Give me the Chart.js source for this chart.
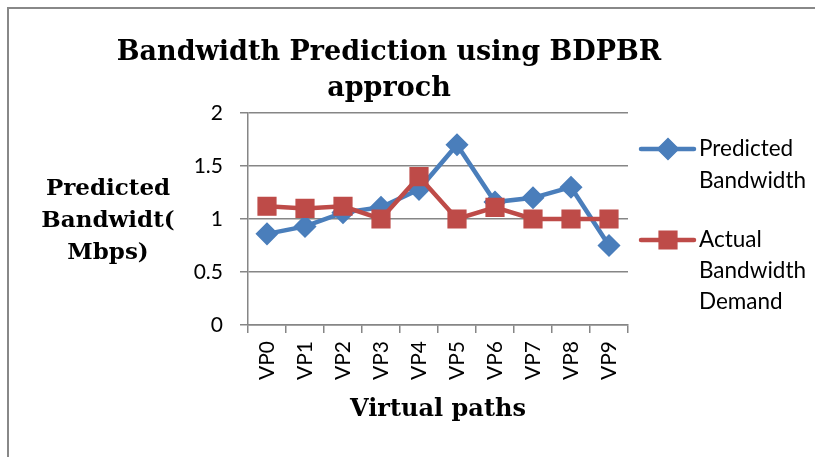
<!DOCTYPE html>
<html>
<head>
<meta charset="utf-8">
<script src="https://cdn.jsdelivr.net/npm/chart.js@4.4.0/dist/chart.umd.min.js"></script>
<style>
  html, body { margin: 0; padding: 0; background: #fff; }
  #wrap { width: 815px; height: 457px; position: relative; }
</style>
</head>
<body>
<div id="wrap"><canvas id="c" width="815" height="457"></canvas></div>
<script>
const categories = ['VP0','VP1','VP2','VP3','VP4','VP5','VP6','VP7','VP8','VP9'];
const predicted = [0.86, 0.93, 1.06, 1.11, 1.28, 1.70, 1.16, 1.20, 1.30, 0.75];
const actual    = [1.12, 1.10, 1.12, 1.00, 1.40, 1.00, 1.11, 1.00, 1.00, 1.00];
const yTickLabels = ['0', '0.5', '1', '1.5', '2'];
const titleLines = ['Bandwidth Prediction using BDPBR', 'approch'];
const yTitleLines = ['Predicted', 'Bandwidt(', 'Mbps)'];
const xTitle = 'Virtual paths';
const legendPredicted = ['Predicted', 'Bandwidth'];
const legendActual = ['Actual', 'Bandwidth', 'Demand'];

const BLUE = '#4A7EBB';
const RED = '#BE4B48';
const GRID = '#868686';
const SERIF = '"DejaVu Serif", serif';
const SANS = 'Lato, "Open Sans", sans-serif';

const extras = {
  id: 'extras',
  beforeDraw(chart) {
    const ctx = chart.ctx;
    ctx.save();
    ctx.strokeStyle = '#888888';
    ctx.lineWidth = 2;
    ctx.strokeRect(8, 8, 1000, 1000);
    ctx.restore();
  },
  afterDraw(chart) {
    const ctx = chart.ctx;
    const area = chart.chartArea;
    ctx.save();
    ctx.fillStyle = '#000';
    ctx.textAlign = 'center';
    ctx.textBaseline = 'alphabetic';
    // main title
    ctx.font = 'bold 27px ' + SERIF;
    ctx.fillText(titleLines[0], 389, 60);
    ctx.fillText(titleLines[1], 389, 96);
    // y title
    ctx.font = 'bold 23px ' + SERIF;
    ctx.textBaseline = 'middle';
    const yc = [189, 221, 253];
    yTitleLines.forEach((t, i) => ctx.fillText(t, 108, yc[i]));
    // x title
    ctx.font = 'bold 24px ' + SERIF;
    ctx.fillText(xTitle, (area.left + area.right) / 2, 410);
    // legend
    const items = [
      { ds: chart.data.datasets.find(d => d.key === 'pred'), lines: legendPredicted, y: [149, 181] },
      { ds: chart.data.datasets.find(d => d.key === 'act'), lines: legendActual, y: [240, 271, 302] }
    ];
    items.forEach(it => {
      const ly = it.y[0];
      ctx.strokeStyle = it.ds.borderColor;
      ctx.lineWidth = it.ds.borderWidth;
      ctx.lineCap = 'round';
      ctx.beginPath();
      ctx.moveTo(641, ly);
      ctx.lineTo(694, ly);
      ctx.stroke();
      ctx.fillStyle = it.ds.pointBackgroundColor;
      ctx.strokeStyle = it.ds.pointBorderColor;
      ctx.lineWidth = it.ds.pointBorderWidth;
      Chart.helpers.drawPoint(ctx, { pointStyle: it.ds.pointStyle, rotation: 0, radius: it.ds.pointRadius, borderWidth: it.ds.pointBorderWidth }, 668, ly);
      ctx.fillStyle = '#000';
      ctx.textAlign = 'left';
      ctx.textBaseline = 'middle';
      ctx.font = '22.5px ' + SANS;
      it.lines.forEach((t, i) => ctx.fillText(t, 699, it.y[i]));
    });
    ctx.restore();
  }
};

new Chart(document.getElementById('c'), {
  type: 'line',
  data: {
    labels: categories,
    datasets: [
      {
        key: 'act', label: 'Actual Bandwidth Demand', data: actual, order: 1,
        borderColor: RED, backgroundColor: RED, borderWidth: 4.5,
        pointStyle: 'rect', pointRadius: 12.5, pointHoverRadius: 12.5,
        pointBackgroundColor: RED, pointBorderColor: RED, pointBorderWidth: 1.5,
        tension: 0, fill: false
      },
      {
        key: 'pred', label: 'Predicted Bandwidth', data: predicted, order: 2,
        borderColor: BLUE, backgroundColor: BLUE, borderWidth: 4.5,
        pointStyle: 'rectRot', pointRadius: 10.5, pointHoverRadius: 10.5,
        pointBackgroundColor: BLUE, pointBorderColor: BLUE, pointBorderWidth: 1.5,
        tension: 0, fill: false
      }
    ]
  },
  options: {
    responsive: false,
    animation: false,
    events: [],
    layout: { padding: { left: 0, right: 187, top: 113, bottom: 0 }, autoPadding: false },
    plugins: { legend: { display: false }, title: { display: false }, tooltip: { enabled: false } },
    scales: {
      x: {
        type: 'category',
        offset: true,
        grid: { display: true, offset: true, drawOnChartArea: false, drawTicks: true, tickLength: 8, color: GRID, lineWidth: 1.5 },
        border: { display: true, color: GRID, width: 1.5 },
        ticks: { minRotation: 90, maxRotation: 90, padding: 8, color: '#000', font: { family: SANS, size: 21 }, autoSkip: false },
        afterFit(scale) { scale.height = 132; }
      },
      y: {
        min: 0, max: 2,
        grid: { color: GRID, lineWidth: 1.5, drawTicks: true, tickLength: 8 },
        border: { display: true, color: GRID, width: 1.5 },
        ticks: {
          stepSize: 0.5, padding: 17, color: '#000', font: { family: SANS, size: 21 },
          callback: (v, i) => yTickLabels[i]
        },
        afterFit(scale) { scale.width = 248; }
      }
    }
  },
  plugins: [extras]
});
</script>
</body>
</html>
